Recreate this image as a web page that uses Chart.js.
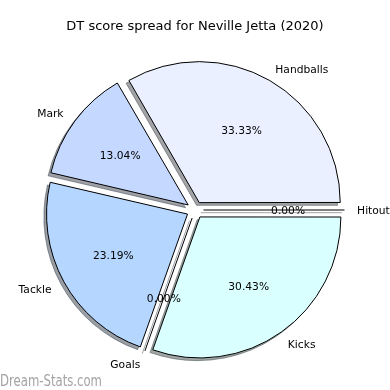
<!DOCTYPE html>
<html><head><meta charset="utf-8">
<script src="https://cdn.jsdelivr.net/npm/chart.js@4"></script>
<style>html,body{margin:0;padding:0;background:#fff}</style>
</head><body>
<canvas id="c" width="390" height="390"></canvas>
<script>
// ---- data (clockwise from 3 o'clock) ----
const chartTitle = 'DT score spread for Neville Jetta (2020)';
const categories = ['Hitout', 'Kicks', 'Goals', 'Tackle', 'Mark', 'Handballs'];
const values = [0, 21, 0, 16, 9, 23];
const sliceColors = ['#e0e8ff', '#daffff', '#c0d8ff', '#b5d6ff', '#c5d8ff', '#eaf0ff'];
const watermark = 'Dream-Stats.com';

// ---- styling ----
const RADIUS = 141;
const EXPLODE = 8.5;
const SHADOW = 2.7;
const FONT = '"DejaVu Sans", sans-serif';
const total = values.reduce((a, b) => a + b, 0);

function circOf(i) { return values[i] / total * Math.PI * 2; }
function fixOf(i) { return 1 - Math.sin(Math.min(Math.PI, circOf(i))); }
function hexRgb(h) { return [1, 3, 5].map(k => parseInt(h.substr(k, 2), 16)); }

const piePlugin = {
  id: 'piePlugin',
  afterDatasetsUpdate(chart) {
    chart.getDatasetMeta(0).data.forEach((el, i) => {
      el.outerRadius = RADIUS - EXPLODE * fixOf(i);
    });
  },
  beforeDatasetsDraw(chart) {
    const ctx = chart.ctx;
    ctx.save();
    chart.getDatasetMeta(0).data.forEach((el, i) => {
      const s = el.startAngle, e = el.endAngle, m = (s + e) / 2;
      const ox = el.x + Math.cos(m) * EXPLODE - SHADOW;
      const oy = el.y + Math.sin(m) * EXPLODE + SHADOW;
      const c = hexRgb(sliceColors[i]).map(v => Math.round(v * 0.3));
      const col = `rgba(${c[0]},${c[1]},${c[2]},0.5)`;
      ctx.beginPath();
      ctx.moveTo(ox, oy);
      if (values[i] === 0) {
        ctx.lineTo(ox + Math.cos(s) * RADIUS, oy + Math.sin(s) * RADIUS);
      } else {
        ctx.arc(ox, oy, RADIUS, s, e);
        ctx.closePath();
        ctx.fillStyle = col;
        ctx.fill();
      }
      ctx.strokeStyle = col;
      ctx.lineWidth = 1;
      ctx.stroke();
    });
    ctx.restore();
  },
  afterDatasetsDraw(chart) {
    const ctx = chart.ctx;
    ctx.save();
    const meta = chart.getDatasetMeta(0);
    meta.data.forEach((el, i) => {
      if (values[i] !== 0) return;
      const s = el.startAngle, m = (el.startAngle + el.endAngle) / 2;
      const ox = el.x + Math.cos(m) * EXPLODE;
      const oy = el.y + Math.sin(m) * EXPLODE;
      ctx.beginPath();
      ctx.moveTo(ox, oy);
      ctx.lineTo(ox + Math.cos(s) * RADIUS, oy + Math.sin(s) * RADIUS);
      ctx.strokeStyle = '#000';
      ctx.lineWidth = 1;
      ctx.stroke();
    });
    ctx.fillStyle = '#000';
    ctx.font = `10.7px ${FONT}`;
    ctx.textBaseline = 'middle';
    const dy = 1.5;
    meta.data.forEach((el, i) => {
      const m = (el.startAngle + el.endAngle) / 2;
      const cx = Math.cos(m), cy = Math.sin(m);
      const lr = EXPLODE + RADIUS * 1.1;
      const lx = el.x + cx * lr, ly = el.y + cy * lr;
      ctx.textAlign = (lx - el.x) > 0.0001 ? 'left' : 'right';
      ctx.fillText(categories[i], lx - (lx > el.x ? 1.5 : 0), ly + dy);
      const pr = EXPLODE + RADIUS * 0.6;
      ctx.textAlign = 'center';
      ctx.fillText((values[i] / total * 100).toFixed(2) + '%', el.x + cx * pr, el.y + cy * pr + dy);
    });
    ctx.font = `13px ${FONT}`;
    ctx.textAlign = 'center';
    ctx.fillText(chartTitle, 195, 26.5);
    // watermark: condensed grey text
    ctx.font = `15px ${FONT}`;
    ctx.fillStyle = '#a4a4a4';
    ctx.textAlign = 'left';
    ctx.textBaseline = 'alphabetic';
    const w = ctx.measureText(watermark).width;
    ctx.translate(0, 386);
    ctx.scale(102 / w, 1);
    ctx.fillText(watermark, 0, 0);
    ctx.restore();
  }
};

new Chart(document.getElementById('c'), {
  type: 'pie',
  data: {
    labels: categories,
    datasets: [{
      data: values,
      backgroundColor: sliceColors,
      borderColor: '#000',
      borderWidth: 1,
      borderJoinStyle: 'miter',
      offset: ctx => EXPLODE * 4
    }]
  },
  options: {
    responsive: false,
    animation: false,
    devicePixelRatio: 1,
    rotation: 90,
    radius: RADIUS,
    layout: { padding: { top: 30, left: 0, right: 0, bottom: 0 } },
    plugins: { legend: { display: false }, tooltip: { enabled: false }, title: { display: false } },
    events: []
  },
  plugins: [piePlugin]
});
</script>
</body></html>
